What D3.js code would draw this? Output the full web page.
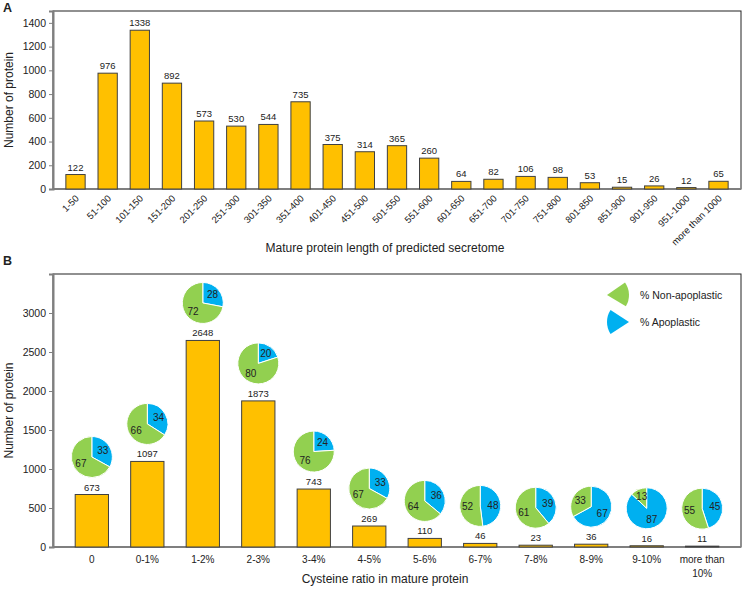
<!DOCTYPE html>
<html>
<head>
<meta charset="utf-8">
<script src="https://cdn.jsdelivr.net/npm/d3@7"></script>
<style>
  body { margin: 0; background: #fff; }
  svg text { font-family: "Liberation Sans", Arial, sans-serif; fill: #222; }
</style>
</head>
<body>
<div id="chart"></div>
<script>
// panel A data
var lengthCats = ["1-50","51-100","101-150","151-200","201-250","251-300","301-350","351-400",
  "401-450","451-500","501-550","551-600","601-650","651-700","701-750","751-800",
  "801-850","851-900","901-950","951-1000","more than 1000"];
var lengthCounts = [122,976,1338,892,573,530,544,735,375,314,365,260,64,82,106,98,53,15,26,12,65];
var lengthTicks = [0,200,400,600,800,1000,1200,1400];

// panel B data
var cysCats = ["0","0-1%","1-2%","2-3%","3-4%","4-5%","5-6%","6-7%","7-8%","8-9%","9-10%","more than 10%"];
var cysCounts = [673,1097,2648,1873,743,269,110,46,23,36,16,11];
var apoplastic = [33,34,28,20,24,33,36,48,39,67,87,45];
var nonApoplastic = [67,66,72,80,76,67,64,52,61,33,13,55];
var cysTicks = [0,500,1000,1500,2000,2500,3000];

var width = 744, height = 590;
var barFill = "#FFC000", barStroke = "#404040";
var green = "#92D050", blue = "#00B0F0";
var axisGray = "#7f7f7f";

var svg = d3.select("#chart").append("svg")
    .attr("width", width)
    .attr("height", height);

var left = 53, right = 741;

function frame(top, bottom) {
    svg.append("rect")
        .attr("x", left).attr("y", top)
        .attr("width", right - left).attr("height", bottom - top)
        .attr("fill", "none").attr("stroke", "#222").attr("stroke-width", 1);
    svg.append("line")
        .attr("x1", left).attr("x2", right).attr("y1", bottom).attr("y2", bottom)
        .attr("stroke", axisGray).attr("stroke-width", 2);
}

function yAxis(y, ticks) {
    var g = svg.append("g")
        .attr("transform", "translate(" + left + ",0)")
        .call(d3.axisLeft(y).tickValues(ticks).tickFormat(d3.format("d")).tickSize(4).tickPadding(3));
    g.select(".domain").attr("stroke", axisGray).attr("stroke-width", 2);
    g.selectAll(".tick line").attr("stroke", axisGray).attr("stroke-width", 1);
    g.selectAll(".tick text").style("font-size", "10.5px").attr("fill", "#222");
}

// ---------- A ----------
var topA = 11, botA = 189;
var xA = d3.scaleBand().domain(lengthCats).range([left, right]).padding(0.4);
var yA = d3.scaleLinear().domain([0, 1500]).range([botA, topA]);

frame(topA, botA);
yAxis(yA, lengthTicks);

svg.selectAll(".barA")
    .data(lengthCats)
    .enter().append("rect")
    .attr("class", "barA")
    .attr("x", function(d) { return xA(d); })
    .attr("width", xA.bandwidth())
    .attr("y", function(d, i) { return yA(lengthCounts[i]); })
    .attr("height", function(d, i) { return botA - yA(lengthCounts[i]); })
    .attr("fill", barFill).attr("stroke", barStroke).attr("stroke-width", 1);

svg.selectAll(".valA")
    .data(lengthCats)
    .enter().append("text")
    .attr("class", "valA")
    .attr("x", function(d) { return xA(d) + xA.bandwidth() / 2; })
    .attr("y", function(d, i) { return yA(lengthCounts[i]) - 4; })
    .attr("text-anchor", "middle")
    .style("font-size", "9.5px")
    .text(function(d, i) { return lengthCounts[i]; });

svg.selectAll(".catA")
    .data(lengthCats)
    .enter().append("text")
    .attr("class", "catA")
    .attr("transform", function(d) {
        return "translate(" + (xA(d) + xA.bandwidth() / 2 + 4) + "," + (botA + 10) + ") rotate(-45)";
    })
    .attr("text-anchor", "end")
    .style("font-size", "9.5px")
    .text(function(d) { return d; });

svg.append("text")
    .attr("x", 385).attr("y", 252)
    .attr("text-anchor", "middle")
    .style("font-size", "12px")
    .text("Mature protein length of predicted secretome");

svg.append("text")
    .attr("transform", "translate(13," + ((topA + botA) / 2) + ") rotate(-90)")
    .attr("text-anchor", "middle")
    .style("font-size", "12px")
    .text("Number of protein");

svg.append("text")
    .attr("x", 3).attr("y", 12)
    .style("font-size", "12.5px").style("font-weight", "bold")
    .text("A");

// ---------- B ----------
var topB = 274, botB = 547;
var xB = d3.scaleBand().domain(cysCats).range([left, right]).padding(0.4);
var yB = d3.scaleLinear().domain([0, 3500]).range([botB, topB]);

frame(topB, botB);
yAxis(yB, cysTicks);

svg.selectAll(".barB")
    .data(cysCats)
    .enter().append("rect")
    .attr("class", "barB")
    .attr("x", function(d) { return xB(d); })
    .attr("width", xB.bandwidth())
    .attr("y", function(d, i) { return yB(cysCounts[i]); })
    .attr("height", function(d, i) { return botB - yB(cysCounts[i]); })
    .attr("fill", barFill).attr("stroke", barStroke).attr("stroke-width", 1);

svg.selectAll(".valB")
    .data(cysCats)
    .enter().append("text")
    .attr("class", "valB")
    .attr("x", function(d) { return xB(d) + xB.bandwidth() / 2; })
    .attr("y", function(d, i) { return yB(cysCounts[i]) - 4; })
    .attr("text-anchor", "middle")
    .style("font-size", "9.5px")
    .text(function(d, i) { return cysCounts[i]; });

// category labels, wrapped on the "more than" one
var catB = svg.selectAll(".catB")
    .data(cysCats)
    .enter().append("text")
    .attr("class", "catB")
    .attr("text-anchor", "middle")
    .style("font-size", "10px");
catB.each(function(d) {
    var lines = d.indexOf("more than") === 0 ? ["more than", d.replace("more than ", "")] : [d];
    var t = d3.select(this);
    var cx = xB(d) + xB.bandwidth() / 2;
    lines.forEach(function(l, k) {
        t.append("tspan").attr("x", cx).attr("y", 563 + k * 13.5).text(l);
    });
});

svg.append("text")
    .attr("x", 385).attr("y", 583)
    .attr("text-anchor", "middle")
    .style("font-size", "12px")
    .text("Cysteine ratio in mature protein");

svg.append("text")
    .attr("transform", "translate(13," + ((topB + botB) / 2) + ") rotate(-90)")
    .attr("text-anchor", "middle")
    .style("font-size", "12px")
    .text("Number of protein");

svg.append("text")
    .attr("x", 3).attr("y", 265)
    .style("font-size", "12.5px").style("font-weight", "bold")
    .text("B");

// pies above each bar: apoplastic (blue) clockwise from 12 o'clock, then non-apoplastic (green)
var pieR = 20.5;
var pie = d3.pie().sort(null).value(function(d) { return d.v; });
var arc = d3.arc().innerRadius(0).outerRadius(pieR);
var labelArc = d3.arc().innerRadius(pieR * 0.62).outerRadius(pieR * 0.62);

var pies = svg.selectAll(".pie")
    .data(cysCats)
    .enter().append("g")
    .attr("class", "pie")
    .attr("transform", function(d, i) {
        return "translate(" + (xB(d) + xB.bandwidth() / 2) + "," + (yB(cysCounts[i]) - 37.5) + ")";
    });

pies.each(function(d, i) {
    var slices = pie([{k: "apo", v: apoplastic[i]}, {k: "non", v: nonApoplastic[i]}]);
    var g = d3.select(this);
    g.selectAll("path")
        .data(slices)
        .enter().append("path")
        .attr("d", arc)
        .attr("fill", function(s) { return s.data.k === "apo" ? blue : green; })
        .attr("stroke", "#fff").attr("stroke-width", 1);
    g.selectAll("text")
        .data(slices)
        .enter().append("text")
        .attr("transform", function(s) { return "translate(" + labelArc.centroid(s) + ")"; })
        .attr("text-anchor", "middle")
        .attr("dy", "0.35em")
        .style("font-size", "10px")
        .text(function(s) { return s.data.v; });
});

// legend with wedge markers
var legendArc = d3.arc().innerRadius(0).outerRadius(22);
var legend = [
    {name: "% Non-apoplastic", color: green, apex: [607, 295], a0: 55, a1: 121, ty: 295},
    {name: "% Apoplastic", color: blue, apex: [629, 322], a0: 237, a1: 303, ty: 322}
];
legend.forEach(function(l) {
    svg.append("path")
        .attr("transform", "translate(" + l.apex + ")")
        .attr("d", legendArc({startAngle: l.a0 * Math.PI / 180, endAngle: l.a1 * Math.PI / 180}))
        .attr("fill", l.color);
    svg.append("text")
        .attr("x", 640).attr("y", l.ty)
        .attr("dy", "0.35em")
        .style("font-size", "10.5px")
        .text(l.name);
});
</script>
</body>
</html>
